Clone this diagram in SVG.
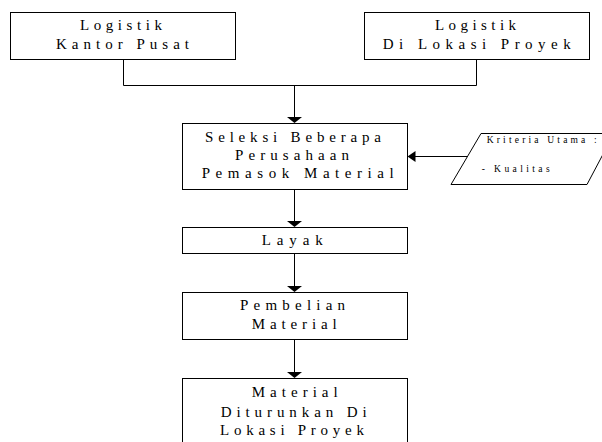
<svg xmlns="http://www.w3.org/2000/svg" width="602" height="442" viewBox="0 0 602 442">
  <style>
    .box { fill: #fff; stroke: #000; stroke-width: 1; }
    .wire { fill: none; stroke: #000; stroke-width: 1; }
    .head { fill: #000; stroke: none; }
    .t { font-family: "Liberation Serif", "Times New Roman", serif; font-size: 15px; fill: #000; }
    .s { font-family: "Liberation Serif", "Times New Roman", serif; font-size: 9.5px; fill: #000; }
  </style>
  <rect width="602" height="442" fill="#fff"/>

  <!-- connectors -->
  <g id="connectors">
    <polyline class="wire" points="123.5,60 123.5,85.5 476.5,85.5 476.5,60"/>
    <line class="wire" x1="294.5" y1="85.5" x2="294.5" y2="118"/>
    <polygon class="head" points="287,117 302,117 294.5,123"/>
    <line class="wire" x1="294.5" y1="189.5" x2="294.5" y2="222"/>
    <polygon class="head" points="287,221 302,221 294.5,227"/>
    <line class="wire" x1="294.5" y1="253.5" x2="294.5" y2="287"/>
    <polygon class="head" points="287,286 302,286 294.5,292"/>
    <line class="wire" x1="294.5" y1="339.5" x2="294.5" y2="373"/>
    <polygon class="head" points="287,372 302,372 294.5,378"/>
    <line class="wire" x1="414" y1="156.5" x2="467.5" y2="156.5"/>
    <polygon class="head" points="415.5,151 415.5,162 407.5,156.5"/>
  </g>

  <g id="logistik-pusat">
    <rect class="box" x="10.5" y="12.5" width="225" height="47"/>
    <text class="t" x="80" y="30" textLength="82" lengthAdjust="spacing">Logistik</text>
    <text class="t" x="56" y="49" textLength="133" lengthAdjust="spacing">Kantor Pusat</text>
  </g>

  <g id="logistik-proyek">
    <rect class="box" x="364.5" y="12.5" width="225" height="47"/>
    <text class="t" x="435" y="30" textLength="81" lengthAdjust="spacing">Logistik</text>
    <text class="t" x="382.7" y="49" textLength="188" lengthAdjust="spacing">Di Lokasi Proyek</text>
  </g>

  <g id="seleksi">
    <rect class="box" x="182.5" y="123.5" width="225" height="66"/>
    <text class="t" x="205" y="141.7" textLength="176" lengthAdjust="spacing">Seleksi Beberapa</text>
    <text class="t" x="235" y="160" textLength="114" lengthAdjust="spacing">Perusahaan</text>
    <text class="t" x="201.7" y="178.3" textLength="192" lengthAdjust="spacing">Pemasok Material</text>
  </g>

  <g id="kriteria">
    <polygon class="box" points="481,133.5 614,133.5 587,184.5 451,184.5"/>
    <text class="s" x="486.7" y="143.3" textLength="110" lengthAdjust="spacing">Kriteria Utama :</text>
    <text class="s" x="481.7" y="171.7" textLength="68" lengthAdjust="spacing">- Kualitas</text>
  </g>

  <g id="layak">
    <rect class="box" x="182.5" y="227.5" width="225" height="26"/>
    <text class="t" x="261.7" y="245" textLength="61" lengthAdjust="spacing">Layak</text>
  </g>

  <g id="pembelian">
    <rect class="box" x="182.5" y="292.5" width="225" height="47"/>
    <text class="t" x="240" y="310" textLength="105" lengthAdjust="spacing">Pembelian</text>
    <text class="t" x="251.7" y="329.3" textLength="85" lengthAdjust="spacing">Material</text>
  </g>

  <g id="material-lokasi">
    <rect class="box" x="182.5" y="378.5" width="225" height="80"/>
    <text class="t" x="251.7" y="396.5" textLength="86" lengthAdjust="spacing">Material</text>
    <text class="t" x="220.7" y="416.5" textLength="146" lengthAdjust="spacing">Diturunkan Di</text>
    <text class="t" x="220" y="434.7" textLength="144" lengthAdjust="spacing">Lokasi Proyek</text>
  </g>
</svg>
